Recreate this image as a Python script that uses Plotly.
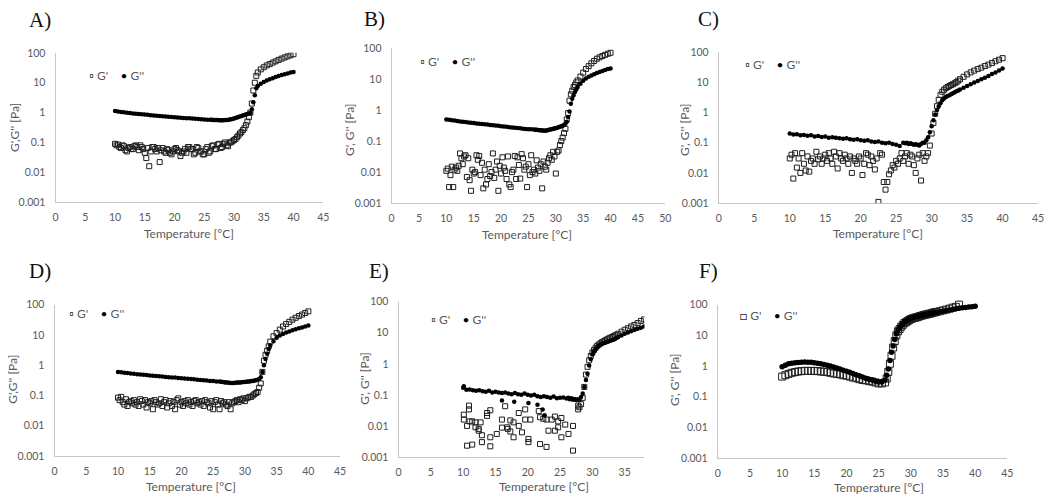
import plotly.graph_objects as go

# ---------------- data ----------------
# temperature grids [°C]
T_FINE = [
    10, 10.25, 10.5, 10.75,
    11, 11.25, 11.5, 11.75,
    12, 12.25, 12.5, 12.75,
    13, 13.25, 13.5, 13.75,
    14, 14.25, 14.5, 14.75,
    15, 15.25, 15.5, 15.75,
    16, 16.25, 16.5, 16.75,
    17, 17.25, 17.5, 17.75,
    18, 18.25, 18.5, 18.75,
    19, 19.25, 19.5, 19.75,
    20, 20.25, 20.5, 20.75,
    21, 21.25, 21.5, 21.75,
    22, 22.25, 22.5, 22.75,
    23, 23.25, 23.5, 23.75,
    24, 24.25, 24.5, 24.75,
    25, 25.25, 25.5, 25.75,
    26, 26.25, 26.5, 26.75,
    27, 27.25, 27.5, 27.75,
    28, 28.25, 28.5, 28.75,
    29, 29.25, 29.5, 29.75,
    30, 30.25, 30.5, 30.75,
    31, 31.25, 31.5, 31.75,
    32, 32.25, 32.5, 32.75,
    33, 33.25, 33.5, 33.75,
    34,
    34.5, 35, 35.5, 36, 36.5, 37, 37.5, 38, 38.5, 39, 39.5, 40,
]

T_MIX = [
    10, 10.5, 11, 11.5, 12, 12.5, 13, 13.5, 14, 14.5, 15, 15.5, 16, 16.5, 17, 17.5,
    18, 18.5, 19, 19.5, 20, 20.5, 21, 21.5, 22, 22.5, 23, 23.5, 24, 24.5, 25, 25.5,
    26, 26.25, 26.5, 26.75,
    27, 27.25, 27.5, 27.75,
    28, 28.25, 28.5, 28.75,
    29, 29.25, 29.5, 29.75,
    30, 30.25, 30.5, 30.75,
    31, 31.25, 31.5, 31.75,
    32, 32.25, 32.5, 32.75,
    33, 33.25, 33.5, 33.75,
    34, 34.5, 35, 35.5, 36, 36.5, 37, 37.5, 38, 38.5, 39, 39.5, 40,
]

X_TICKS_45 = [0, 5, 10, 15, 20, 25, 30, 35, 40, 45]
X_TICKS_50 = [0, 5, 10, 15, 20, 25, 30, 35, 40, 45, 50]
X_TICKS_35 = [0, 5, 10, 15, 20, 25, 30, 35]
Y_TICKS = [0.001, 0.01, 0.1, 1, 10, 100]
Y_TICK_LABELS = ["0.001", "0.01", "0.1", "1", "10", "100"]
PANEL_LABELS = ["A)", "B)", "C)", "D)", "E)", "F)"]
X_TITLE = "Temperature [°C]"
Y_TITLES = ["G',G'' [Pa]", "G', G'' [Pa]", "G', G'' [Pa]",
            "G',G'' [Pa]", "G', G'' [Pa]", "G', G'' [Pa]"]
SERIES_NAMES = ["G'", "G''"]

# ---- A ----
A_G1 = [  # on T_FINE
    0.09, 0.08, 0.085, 0.07,
    0.065, 0.08, 0.075, 0.055,
    0.05, 0.065, 0.07, 0.06,
    0.06, 0.075, 0.08, 0.07,
    0.055, 0.08, 0.07, 0.06,
    0.045, 0.03, 0.065, 0.016,
    0.05, 0.07, 0.07, 0.06,
    0.05, 0.065, 0.022, 0.055,
    0.065, 0.05, 0.045, 0.06,
    0.055, 0.045, 0.04, 0.05,
    0.06, 0.065, 0.055, 0.05,
    0.035, 0.045, 0.05, 0.06,
    0.045, 0.07, 0.07, 0.06,
    0.06, 0.04, 0.045, 0.07,
    0.065, 0.05, 0.05, 0.04,
    0.04, 0.06, 0.07, 0.045,
    0.05, 0.075, 0.08, 0.06,
    0.06, 0.085, 0.09, 0.065,
    0.07, 0.09, 0.1, 0.08,
    0.075, 0.1, 0.1, 0.11,
    0.12, 0.13, 0.15, 0.17,
    0.2, 0.22, 0.26, 0.3,
    0.38, 0.5, 0.7, 1.0,
    2.0, 5.5, 10, 17,
    22,
    28, 33, 38, 42, 47, 52, 58, 64, 70, 76, 83, 90,
]
A_G2 = [  # on T_MIX
    1.12, 1.08, 1.05, 1.02, 0.99, 0.96, 0.94, 0.92, 0.9, 0.88, 0.86, 0.84, 0.82, 0.8, 0.79, 0.77,
    0.75, 0.74, 0.72, 0.71, 0.7, 0.68, 0.67, 0.66, 0.65, 0.64, 0.63, 0.62, 0.61, 0.6, 0.59, 0.58,
    0.58, 0.575, 0.57, 0.565,
    0.56, 0.56, 0.555, 0.55,
    0.55, 0.555, 0.56, 0.565,
    0.57, 0.585, 0.6, 0.615,
    0.63, 0.66, 0.68, 0.71,
    0.74, 0.77, 0.8, 0.83,
    0.86, 0.9, 0.93, 0.97,
    1.3, 2.2, 3.8, 6.5,
    7.8, 9.2, 10.5, 11.8, 13, 14.2, 15.5, 16.8, 18, 19.3, 20.5, 21.8, 23,
]

# ---- B ----
B_G1 = [  # on T_FINE
    0.011, 0.013, 0.0033, 0.008,
    0.015, 0.0033, 0.012, 0.014,
    0.011, 0.016, 0.04, 0.028,
    0.018, 0.032, 0.035, 0.007,
    0.028, 0.0055, 0.0025, 0.012,
    0.009, 0.01, 0.035, 0.025,
    0.033, 0.008, 0.02, 0.003,
    0.012, 0.004, 0.006, 0.018,
    0.0075, 0.01, 0.04, 0.0065,
    0.012, 0.022, 0.0025, 0.016,
    0.009, 0.03, 0.014, 0.011,
    0.006, 0.032, 0.004, 0.0033,
    0.01, 0.012, 0.033, 0.006,
    0.03, 0.017, 0.0062, 0.038,
    0.028, 0.012, 0.015, 0.0033,
    0.018, 0.008, 0.035, 0.01,
    0.012, 0.009, 0.024, 0.014,
    0.011, 0.018, 0.003, 0.022,
    0.015, 0.012, 0.02, 0.028,
    0.035, 0.025, 0.045, 0.032,
    0.009, 0.045, 0.05, 0.075,
    0.1, 0.13, 0.18, 0.25,
    0.5, 0.8, 2.0, 3.2,
    4.2, 5.5, 6.5, 7.8,
    9,
    12, 16, 21, 26, 32, 38, 45, 50, 55, 60, 65, 70,
]
B_G2 = [  # on T_MIX
    0.5, 0.49, 0.47, 0.46, 0.44, 0.43, 0.42, 0.41, 0.4, 0.39, 0.38, 0.37, 0.36, 0.355, 0.35, 0.34,
    0.33, 0.325, 0.32, 0.31, 0.3, 0.295, 0.29, 0.28, 0.275, 0.27, 0.265, 0.26, 0.25, 0.245, 0.24, 0.24,
    0.235, 0.232, 0.23, 0.228,
    0.225, 0.222, 0.22, 0.218,
    0.215, 0.22, 0.225, 0.23,
    0.235, 0.24, 0.25, 0.255,
    0.26, 0.27, 0.28, 0.29,
    0.3, 0.31, 0.33, 0.36,
    0.42, 0.6, 0.9, 1.6,
    2.3, 3.0, 3.8, 4.6,
    5.5, 7, 8.8, 10.3, 11.8, 13, 14.3, 15.5, 16.8, 18, 19.5, 21, 22,
]

# ---- C ----
C_G1 = [  # on T_FINE
    0.03, 0.04, 0.0065, 0.045,
    0.015, 0.03, 0.01, 0.045,
    0.02, 0.012, 0.035, 0.011,
    0.025, 0.03, 0.02, 0.05,
    0.028, 0.035, 0.02, 0.03,
    0.04, 0.025, 0.045, 0.03,
    0.02, 0.05, 0.035, 0.014,
    0.045, 0.03, 0.025, 0.04,
    0.03, 0.02, 0.035, 0.01,
    0.03, 0.025, 0.02, 0.035,
    0.03, 0.0085, 0.02, 0.045,
    0.04, 0.018, 0.035, 0.025,
    0.013, 0.03, 0.0011, 0.045,
    0.04, 0.005, 0.0028, 0.005,
    0.009, 0.012, 0.018, 0.015,
    0.025, 0.02, 0.03, 0.045,
    0.025, 0.035, 0.045, 0.02,
    0.04, 0.035, 0.018, 0.01,
    0.03, 0.04, 0.0056, 0.045,
    0.025, 0.035, 0.045, 0.08,
    0.2, 0.45, 0.9, 1.6,
    2.6, 3.8, 4.8, 5.6,
    6.3, 6.9, 7.5, 8.0,
    8.5, 9.2, 10, 11.2,
    12.5,
    15, 18, 21, 24, 27, 30, 34, 38, 43, 49, 55, 62,
]
C_G2 = [  # on T_MIX
    0.2, 0.185, 0.19, 0.175, 0.18, 0.17, 0.175, 0.16, 0.165, 0.155, 0.16, 0.145, 0.15, 0.145, 0.14, 0.135,
    0.14, 0.13, 0.125, 0.13, 0.12, 0.115, 0.12, 0.11, 0.105, 0.11, 0.1, 0.095, 0.1, 0.09, 0.085, 0.078,
    0.1, 0.095, 0.1, 0.09,
    0.095, 0.09, 0.085, 0.088,
    0.085, 0.08, 0.09, 0.1,
    0.1, 0.12, 0.15, 0.22,
    0.35, 0.55, 0.85, 1.2,
    1.6, 2.0, 2.5, 2.9,
    3.2, 3.5, 3.7, 4.0,
    4.3, 4.6, 5.0, 5.3,
    5.7, 6.5, 7.5, 8.5, 9.7, 11, 12.5, 14, 16, 18.5, 21, 24, 28,
]

# ---- D ----
D_G1 = [  # on T_FINE
    0.085, 0.07, 0.09, 0.06,
    0.05, 0.075, 0.045, 0.06,
    0.065, 0.055, 0.07, 0.05,
    0.06, 0.045, 0.075, 0.065,
    0.05, 0.07, 0.04, 0.06,
    0.055, 0.065, 0.035, 0.07,
    0.06, 0.05, 0.055, 0.075,
    0.045, 0.06, 0.07, 0.04,
    0.055, 0.065, 0.045, 0.06,
    0.035, 0.07, 0.08, 0.05,
    0.06, 0.045, 0.065, 0.055,
    0.07, 0.05, 0.06, 0.045,
    0.065, 0.07, 0.055, 0.06,
    0.05, 0.065, 0.045, 0.07,
    0.06, 0.055, 0.04, 0.065,
    0.035, 0.06, 0.07, 0.05,
    0.035, 0.065, 0.055, 0.06,
    0.05, 0.045, 0.06, 0.035,
    0.055, 0.06, 0.065, 0.07,
    0.06, 0.075, 0.07, 0.08,
    0.065, 0.08, 0.085, 0.09,
    0.09, 0.1, 0.11, 0.12,
    0.13, 0.18, 0.25, 0.6,
    1.4, 2.2, 3.0, 4.2,
    6,
    9, 11.5, 15, 19, 23, 27, 32, 37, 42, 47, 53, 60,
]
D_G2 = [  # on T_MIX
    0.6, 0.58, 0.56, 0.55, 0.53, 0.52, 0.5, 0.49, 0.48, 0.47, 0.46, 0.45, 0.44, 0.43, 0.42, 0.41,
    0.4, 0.395, 0.39, 0.38, 0.37, 0.36, 0.355, 0.35, 0.34, 0.33, 0.325, 0.32, 0.31, 0.3, 0.3, 0.29,
    0.29, 0.285, 0.28, 0.275,
    0.27, 0.27, 0.265, 0.26,
    0.26, 0.26, 0.265, 0.27,
    0.27, 0.27, 0.275, 0.28,
    0.28, 0.285, 0.29, 0.29,
    0.3, 0.3, 0.31, 0.32,
    0.33, 0.35, 0.4, 0.6,
    1.0, 1.6, 2.4, 3.4,
    4.5, 6.2, 8, 9.5, 10.7, 12, 13, 14.2, 15.5, 16.5, 17.5, 19, 20.5,
]

# ---- E ----
E_T1_SCATTER = [
    10.1, 10.1, 10.6, 10.6, 10.9, 10.9, 11.0, 11.4, 11.4, 11.9, 11.9, 12.4, 12.4, 12.7, 12.9, 12.9,
    13.7, 13.7, 14.2, 14.2, 14.2, 15.2, 16.0, 16.0, 16.5, 16.8, 16.9, 17.3, 17.3, 17.8, 17.8,
    18.6, 18.6, 19.1, 19.6, 19.6, 20.1, 20.1, 20.4, 21.7, 21.9, 21.9, 22.4, 22.9, 22.9, 23.2,
    23.7, 24.2, 24.2, 24.7, 24.7, 25.2, 25.2, 25.8, 26.3, 27.0, 27.0, 27.8, 27.8,
]
E_G1_SCATTER = [
    0.016, 0.023, 0.01, 0.0023, 0.045, 0.034, 0.014, 0.014, 0.0025, 0.013, 0.009, 0.008, 0.007, 0.013, 0.003, 0.005,
    0.021, 0.026, 0.032, 0.0022, 0.0043, 0.0055, 0.016, 0.0088, 0.043, 0.009, 0.008, 0.015, 0.0066, 0.013, 0.0043,
    0.026, 0.01, 0.0062, 0.016, 0.034, 0.0038, 0.003, 0.016, 0.03, 0.019, 0.0026, 0.017, 0.016, 0.0021, 0.007,
    0.016, 0.02, 0.007, 0.014, 0.009, 0.018, 0.0043, 0.011, 0.0055, 0.01, 0.0016, 0.045, 0.034,
]
E_T1_RISE = [
    28, 28.25, 28.5, 28.75, 29, 29.25, 29.5, 29.75, 30, 30.25, 30.5, 30.75,
    31, 31.25, 31.5, 31.75, 32, 32.25, 32.5, 32.75, 33, 33.25, 33.5, 33.75,
    34, 34.5, 35, 35.5, 36, 36.5, 37, 37.5, 38,
]
E_G1_RISE = [
    0.04, 0.05, 0.08, 0.18, 0.45, 0.8, 1.3, 1.8, 2.3, 2.8, 3.3, 3.8,
    4.2, 4.6, 5.0, 5.3, 5.7, 6.1, 6.5, 6.9, 7.3, 7.7, 8.2, 8.7,
    9.3, 10.8, 12.5, 14, 16, 18, 20.5, 24, 27,
]
E_G2 = [  # on T_MIX
    0.17, 0.145, 0.15, 0.14, 0.135, 0.14, 0.13, 0.125, 0.135, 0.12, 0.125, 0.12, 0.115, 0.12, 0.11, 0.105,
    0.115, 0.105, 0.1, 0.11, 0.1, 0.095, 0.1, 0.09, 0.085, 0.09, 0.085, 0.08, 0.088, 0.078, 0.08, 0.082,
    0.076, 0.08, 0.072, 0.078,
    0.07, 0.074, 0.068, 0.072,
    0.07, 0.085, 0.11, 0.18,
    0.3, 0.48, 0.88, 1.4,
    2.0, 2.5, 3.0, 3.4,
    3.8, 4.1, 4.4, 4.6,
    4.8, 5.0, 5.2, 5.5,
    5.7, 6.0, 6.3, 6.8,
    7.3, 8.2, 9.3, 10.2, 11.3, 12.3, 13.4, 14.6, 16, 17.5, 19, 20.5, 22,
]
E_T2_OUTLIERS = [10.1, 16.0, 17.9, 20.1, 21.5, 22.3, 22.6]
E_G2_OUTLIERS = [0.19, 0.066, 0.06, 0.055, 0.048, 0.034, 0.022]

# ---- F ----
F_G1 = [  # on T_MIX
    0.45, 0.5, 0.55, 0.6, 0.63, 0.66, 0.68, 0.69, 0.69, 0.69, 0.69, 0.68, 0.66, 0.65, 0.63, 0.6,
    0.57, 0.55, 0.53, 0.5, 0.48, 0.45, 0.42, 0.4, 0.37, 0.35, 0.34, 0.32, 0.31, 0.29, 0.27, 0.27,
    0.29, 0.39, 0.64, 1.18,
    2.15, 4.0, 6.5, 10,
    13.5, 16, 19, 22,
    25, 27, 29, 31.5,
    34, 35.5, 37, 38,
    39, 41, 42.5, 44,
    46, 47, 48.5, 50,
    51, 53, 55, 56.5,
    58, 61, 65, 69, 74, 80, 85, 100, None, None, None, None, None,
]
F_G2 = [  # on T_MIX
    0.95, 1.05, 1.18, 1.22, 1.27, 1.3, 1.33, 1.34, 1.33, 1.31, 1.27, 1.23, 1.18, 1.12, 1.05, 0.99,
    0.93, 0.86, 0.79, 0.73, 0.67, 0.62, 0.57, 0.52, 0.48, 0.44, 0.4, 0.37, 0.35, 0.32, 0.3, 0.3,
    0.35, 0.5, 0.8, 1.5,
    2.8, 4.5, 7.3, 11,
    15, 18, 21, 24,
    27, 30, 32, 34,
    36, 37.5, 39, 40,
    41, 42.5, 44, 45,
    46, 47, 48.5, 50,
    51, 52, 53.5, 55,
    56, 58.5, 61, 64, 67, 70, 74, 76.5, 79, 81.5, 84, 86, 88,
]

# ---------------- layout (pixel positions in the 1050x501 page) ----------------
W, H = 1050, 501


def fx(p):
    return p / W


def fy(p):
    return 1 - p / H


panels = [
    dict(g1x=T_FINE, g1=A_G1, g2x=T_MIX, g2=A_G2, xmax=45, xt=X_TICKS_45,
         box=(53, 323, 48, 201), label=(37, 14), leg=(85, 71), xtitle=(188, 233), ytitle=(11, 124)),
    dict(g1x=T_FINE, g1=B_G1, g2x=T_MIX, g2=B_G2, xmax=50, xt=X_TICKS_50,
         box=(392, 668, 43, 202), label=(375, 13), leg=(419, 57), xtitle=(529, 234), ytitle=(350, 127)),
    dict(g1x=T_FINE, g1=C_G1, g2x=T_MIX, g2=C_G2, xmax=45, xt=X_TICKS_45,
         box=(722, 1044, 47, 202), label=(712, 13), leg=(746, 60), xtitle=(883, 233), ytitle=(688, 127)),
    dict(g1x=T_FINE, g1=D_G1, g2x=T_MIX, g2=D_G2, xmax=45, xt=X_TICKS_45,
         box=(52, 340, 306, 461), label=(37, 272), leg=(65, 315), xtitle=(190, 492), ytitle=(10, 382)),
    dict(g1x=E_T1_SCATTER + E_T1_RISE, g1=E_G1_SCATTER + E_G1_RISE,
         g2x=T_MIX + E_T2_OUTLIERS, g2=E_G2 + E_G2_OUTLIERS, xmax=38.06, xt=X_TICKS_35,
         box=(399, 647, 303, 462), label=(379, 272), leg=(430, 321), xtitle=(546, 492), ytitle=(365, 381)),
    dict(g1x=T_MIX, g1=F_G1, g2x=T_MIX, g2=F_G2, xmax=45, xt=X_TICKS_45,
         box=(721, 1013, 306, 463), label=(712, 272), leg=(741, 317), xtitle=(884, 493), ytitle=(678, 383)),
]

TICK_FONT = dict(family="Lato, 'Open Sans', sans-serif", size=10.5, color="#595959")
TITLE_FONT = dict(family="Lato, 'Open Sans', sans-serif", size=12, color="#595959")
AXIS_LINE = "#c6c6c6"

fig = go.Figure()
annotations = []
layout_axes = {}

for i, p in enumerate(panels):
    n = "" if i == 0 else str(i + 1)
    xa, ya = "x" + n, "y" + n
    big = (i == 5)
    sq_size = 7 if big else 5
    dot_size = 5.5 if big else 4.5
    clip = not big

    fig.add_trace(go.Scatter(
        x=p["g1x"], y=p["g1"], mode="markers", name=SERIES_NAMES[0],
        marker=dict(symbol="square-open", size=sq_size, color="#1e1e1e", line=dict(width=1, color="#1e1e1e")),
        xaxis=xa, yaxis=ya, showlegend=False, cliponaxis=clip))
    fig.add_trace(go.Scatter(
        x=p["g2x"], y=p["g2"], mode="markers", name=SERIES_NAMES[1],
        marker=dict(symbol="circle", size=dot_size, color="#000000", line=dict(width=0)),
        xaxis=xa, yaxis=ya, showlegend=False, cliponaxis=clip))

    x0, x1, y0, y1 = p["box"]
    layout_axes["xaxis" + n] = dict(
        domain=[fx(x0), fx(x1)], range=[0, p["xmax"]], anchor=ya,
        tickmode="array", tickvals=p["xt"], ticktext=[str(v) for v in p["xt"]],
        showline=True, linecolor=AXIS_LINE, linewidth=1, showgrid=False, zeroline=False,
        ticks="", ticklabelstandoff=5, tickfont=TICK_FONT, fixedrange=True)
    layout_axes["yaxis" + n] = dict(
        domain=[fy(y1), fy(y0)], type="log", range=[-3, 2], anchor=xa,
        tickmode="array", tickvals=Y_TICKS, ticktext=Y_TICK_LABELS,
        showline=True, linecolor=AXIS_LINE, linewidth=1, showgrid=False, zeroline=False,
        ticks="", ticklabelstandoff=7, tickfont=TICK_FONT, fixedrange=True)

    # panel letter
    lx, ly = p["label"]
    annotations.append(dict(text=PANEL_LABELS[i], x=fx(lx), y=fy(ly), xref="paper", yref="paper",
                            xanchor="center", yanchor="middle", showarrow=False,
                            font=dict(family="'Liberation Serif', 'DejaVu Serif', serif", size=21, color="#111111")))
    # legend (text style, like the original in-plot legend)
    gx, gy = p["leg"]
    sym = "□" if big else "▫"
    annotations.append(dict(
        text=(f"<span style='color:#1e1e1e'>{sym}</span>\u00a0{SERIES_NAMES[0]}\u00a0\u00a0\u00a0\u00a0"
              f"<span style='color:#000000'>•</span>\u00a0{SERIES_NAMES[1]}"),
        x=fx(gx), y=fy(gy), xref="paper", yref="paper", xanchor="left", yanchor="middle",
        showarrow=False, font=dict(family="Lato, 'Open Sans', sans-serif", size=12, color="#595959")))
    # axis titles
    tx, ty = p["xtitle"]
    annotations.append(dict(text=X_TITLE, x=fx(tx), y=fy(ty), xref="paper", yref="paper",
                            xanchor="center", yanchor="middle", showarrow=False, font=TITLE_FONT))
    vx, vy = p["ytitle"]
    annotations.append(dict(text=Y_TITLES[i], x=fx(vx), y=fy(vy), xref="paper", yref="paper",
                            xanchor="center", yanchor="middle", showarrow=False, textangle=-90,
                            font=TITLE_FONT))

fig.update_layout(
    width=W, height=H, margin=dict(l=0, r=0, t=0, b=0),
    paper_bgcolor="white", plot_bgcolor="white",
    showlegend=False, annotations=annotations, **layout_axes)

fig.write_html("out.html", config={"displayModeBar": False},
               post_script="document.body.style.margin='0px';document.body.style.padding='0px';")
